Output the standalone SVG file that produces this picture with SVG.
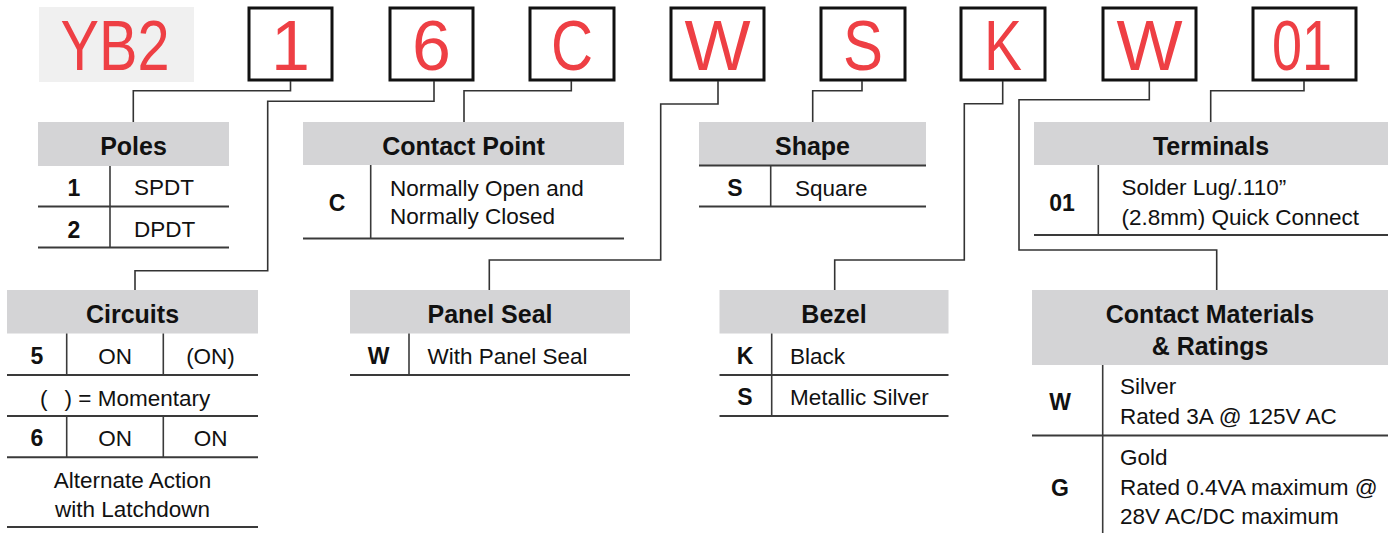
<svg xmlns="http://www.w3.org/2000/svg" width="1392" height="533" viewBox="0 0 1392 533">
<style>
.bg{fill:#ffffff}
.code{fill:#ffffff;stroke:#111;stroke-width:3}
.red{font-family:"Liberation Sans",Arial,sans-serif;font-size:70px;fill:#ee3f44;text-anchor:middle}
.conn{fill:none;stroke:#333;stroke-width:1.6}
.hdr{fill:#d4d4d6}
.rule{stroke:#3a3a3a;stroke-width:2;fill:none}
.div{stroke:#3a3a3a;stroke-width:1.6;fill:none}
.title{font-family:"Liberation Sans",Arial,sans-serif;font-weight:bold;font-size:25px;fill:#111;text-anchor:middle}
.key{font-family:"Liberation Sans",Arial,sans-serif;font-weight:bold;font-size:23px;fill:#111;text-anchor:middle}
.txt{font-family:"Liberation Sans",Arial,sans-serif;font-size:22.5px;fill:#111}
.mid{text-anchor:middle}
</style>
<rect class="bg" x="0" y="0" width="1392" height="533"/>

<g id="code-YB2">
<rect x="39" y="7" width="155" height="75" fill="#f0f0f0"/>
<text class="red" x="115" y="70" textLength="109" lengthAdjust="spacingAndGlyphs">YB2</text>
</g>
<g id="code-1"><rect class="code" x="249" y="8" width="83" height="72"/><text class="red" x="290.5" y="70">1</text></g>
<g id="code-6"><rect class="code" x="390" y="8" width="83" height="72"/><text class="red" x="431.5" y="70">6</text></g>
<g id="code-C"><rect class="code" x="530" y="8" width="84" height="72"/><text class="red" x="572" y="70" textLength="42" lengthAdjust="spacingAndGlyphs">C</text></g>
<g id="code-W1"><rect class="code" x="671" y="8" width="93" height="72"/><text class="red" x="717.5" y="70">W</text></g>
<g id="code-S"><rect class="code" x="821" y="8" width="84" height="72"/><text class="red" x="863" y="70" textLength="40" lengthAdjust="spacingAndGlyphs">S</text></g>
<g id="code-K"><rect class="code" x="961" y="8" width="84" height="72"/><text class="red" x="1003" y="70" textLength="38" lengthAdjust="spacingAndGlyphs">K</text></g>
<g id="code-W2"><rect class="code" x="1103" y="8" width="93" height="72"/><text class="red" x="1149.5" y="70">W</text></g>
<g id="code-01"><rect class="code" x="1253" y="8" width="103" height="72"/><text class="red" x="1302" y="70" textLength="60" lengthAdjust="spacingAndGlyphs">01</text></g>

<g id="connectors">
<path class="conn" d="M290.5,81 V90.7 H133.3 V122"/>
<path class="conn" d="M434,81 V101.3 H267.7 V270.7 H135 V290"/>
<path class="conn" d="M571.3,81 V90.7 H464 V122"/>
<path class="conn" d="M718,81 V104 H660.7 V260 H489.3 V290"/>
<path class="conn" d="M862,81 V90.7 H812.7 V122"/>
<path class="conn" d="M1002.7,81 V103.7 H964.3 V260 H834.7 V290"/>
<path class="conn" d="M1149.3,81 V99.7 H1019 V250 H1216.7 V290"/>
<path class="conn" d="M1304,81 V90.7 H1210.7 V122"/>
</g>

<g id="table-poles">
<rect class="hdr" x="38" y="122" width="191" height="44"/>
<text class="title" x="133.5" y="155">Poles</text>
<line class="div" x1="110" y1="166" x2="110" y2="247.5"/>
<line class="rule" x1="38" y1="206.5" x2="229" y2="206.5"/>
<line class="rule" x1="38" y1="247.5" x2="229" y2="247.5"/>
<text class="key" x="74" y="195.5">1</text>
<text class="txt" x="134" y="195">SPDT</text>
<text class="key" x="74" y="237.5">2</text>
<text class="txt" x="134" y="237">DPDT</text>
</g>

<g id="table-contact-point">
<rect class="hdr" x="303" y="122" width="321" height="43"/>
<text class="title" x="463.5" y="155">Contact Point</text>
<line class="div" x1="370.7" y1="165" x2="370.7" y2="238.5"/>
<line class="rule" x1="303" y1="238.5" x2="624" y2="238.5"/>
<text class="key" x="337" y="211">C</text>
<text class="txt" x="390" y="196">Normally Open and</text>
<text class="txt" x="390" y="224">Normally Closed</text>
</g>

<g id="table-shape">
<rect class="hdr" x="699" y="122" width="227" height="43"/>
<line class="rule" x1="699" y1="165.5" x2="926" y2="165.5"/>
<text class="title" x="812.5" y="155">Shape</text>
<line class="div" x1="770.7" y1="165" x2="770.7" y2="206.5"/>
<line class="rule" x1="699" y1="206.5" x2="926" y2="206.5"/>
<text class="key" x="735" y="196">S</text>
<text class="txt" x="795" y="196">Square</text>
</g>

<g id="table-terminals">
<rect class="hdr" x="1034" y="122" width="354" height="43"/>
<text class="title" x="1211" y="155">Terminals</text>
<line class="div" x1="1098.3" y1="165" x2="1098.3" y2="235"/>
<line class="rule" x1="1034" y1="235" x2="1388" y2="235"/>
<text class="key" x="1062" y="211">01</text>
<text class="txt" x="1121.5" y="195">Solder Lug/.110”</text>
<text class="txt" x="1121.5" y="225">(2.8mm) Quick Connect</text>
</g>

<g id="table-circuits">
<rect class="hdr" x="7" y="290" width="251" height="43.5"/>
<text class="title" x="132.5" y="323">Circuits</text>
<line class="div" x1="66.7" y1="333.5" x2="66.7" y2="375"/>
<line class="div" x1="163.3" y1="333.5" x2="163.3" y2="375"/>
<line class="rule" x1="7" y1="375" x2="258" y2="375"/>
<text class="key" x="37" y="364">5</text>
<text class="txt mid" x="115" y="364">ON</text>
<text class="txt mid" x="210.5" y="364">(ON)</text>
<text class="txt" x="40" y="406">(</text>
<text class="txt" x="64.5" y="406">) = Momentary</text>
<line class="rule" x1="7" y1="416" x2="258" y2="416"/>
<line class="div" x1="66.7" y1="416" x2="66.7" y2="457.3"/>
<line class="div" x1="163.3" y1="416" x2="163.3" y2="457.3"/>
<text class="key" x="37" y="446">6</text>
<text class="txt mid" x="115" y="446">ON</text>
<text class="txt mid" x="210.5" y="446">ON</text>
<line class="rule" x1="7" y1="457.3" x2="258" y2="457.3"/>
<text class="txt mid" x="132.5" y="488">Alternate Action</text>
<text class="txt mid" x="132.5" y="517">with Latchdown</text>
<line class="rule" x1="7" y1="527" x2="258" y2="527"/>
</g>

<g id="table-panel-seal">
<rect class="hdr" x="350" y="290" width="280" height="43.5"/>
<text class="title" x="490" y="323">Panel Seal</text>
<line class="div" x1="409" y1="333.5" x2="409" y2="375"/>
<line class="rule" x1="350" y1="375" x2="630" y2="375"/>
<text class="key" x="378.5" y="364">W</text>
<text class="txt" x="427.5" y="364">With Panel Seal</text>
</g>

<g id="table-bezel">
<rect class="hdr" x="719.5" y="290" width="229" height="43.5"/>
<text class="title" x="834" y="323">Bezel</text>
<line class="div" x1="771.7" y1="333.5" x2="771.7" y2="416"/>
<line class="rule" x1="719.5" y1="375" x2="948.5" y2="375"/>
<line class="rule" x1="719.5" y1="416" x2="948.5" y2="416"/>
<text class="key" x="745" y="364">K</text>
<text class="txt" x="790" y="364">Black</text>
<text class="key" x="745" y="405">S</text>
<text class="txt" x="790" y="405">Metallic Silver</text>
</g>

<g id="table-contact-materials">
<rect class="hdr" x="1032" y="290" width="356" height="75"/>
<text class="title" x="1210" y="323">Contact Materials</text>
<text class="title" x="1210" y="355">&amp; Ratings</text>
<line class="div" x1="1102.7" y1="365" x2="1102.7" y2="533"/>
<line class="rule" x1="1032" y1="435.5" x2="1388" y2="435.5"/>
<text class="key" x="1060" y="410">W</text>
<text class="txt" x="1120" y="394">Silver</text>
<text class="txt" x="1120" y="424">Rated 3A @ 125V AC</text>
<text class="key" x="1060" y="496">G</text>
<text class="txt" x="1120" y="465">Gold</text>
<text class="txt" x="1120" y="495">Rated 0.4VA maximum @</text>
<text class="txt" x="1120" y="524">28V AC/DC maximum</text>
</g>
</svg>
